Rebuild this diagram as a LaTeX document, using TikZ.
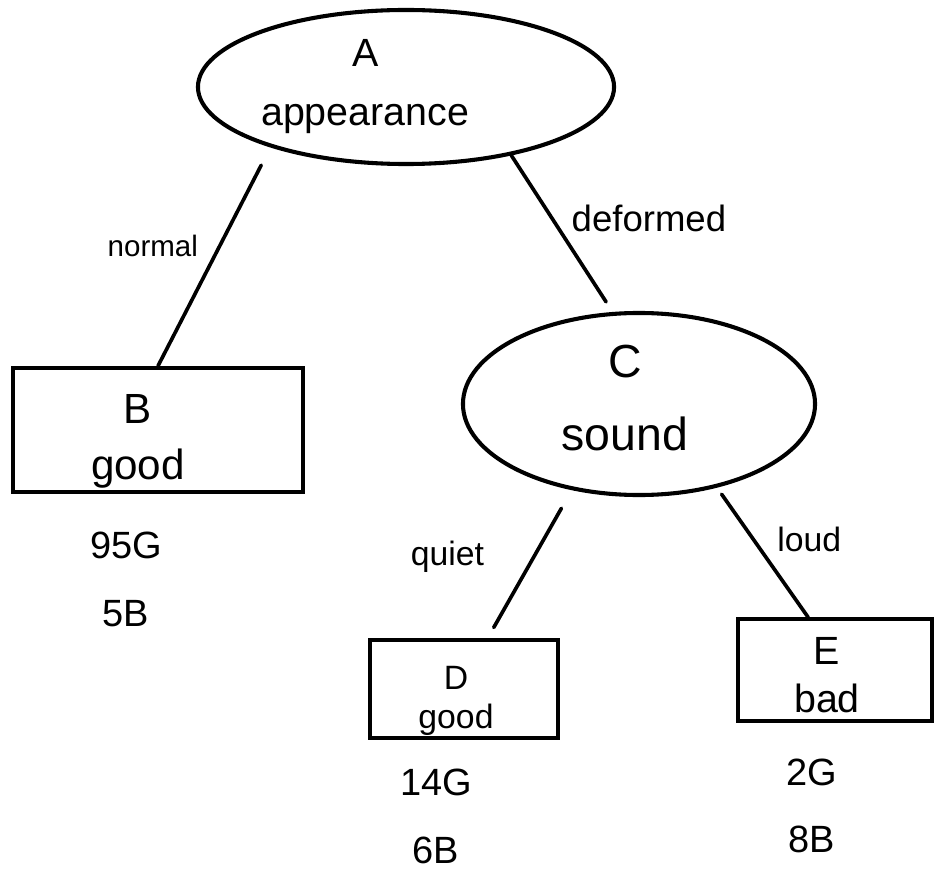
\documentclass[tikz,border=0pt]{standalone}
\usepackage{fontspec}
\setmainfont{Liberation Sans}
\usetikzlibrary{shapes.geometric}
\usetikzlibrary{positioning}

\tikzset{
  oval/.style={draw, ellipse, line width=2.9pt, inner sep=0pt},
  leaf/.style={draw, rectangle, line width=2.9pt, inner sep=0pt},
  nodetext/.style={align=center, inner sep=0pt},
  edge/.style={line width=2.6pt, line cap=round},
  edgelabel/.style={inner sep=0pt, font=\fontsize{24}{28}\selectfont},
  count/.style={align=center, inner sep=0pt, font=\fontsize{27}{48}\selectfont}
}

\begin{document}
\begin{tikzpicture}[x=0.025cm, y=-0.025cm]
        \useasboundingbox (0,0) rectangle (944,872);

        % Wurzel: appearance
        \node[oval, minimum width=10.4cm, minimum height=3.85cm] (A) at (406,87) {};
        \node[nodetext, font=\fontsize{28}{42}\selectfont] (Atext) at ([xshift=-1.02cm]A.center) {A\\appearance};

        % Blatt B
        \node[leaf, minimum width=7.25cm, minimum height=3.1cm] (B) at (158,430) {};
        \node[nodetext, font=\fontsize{30}{40}\selectfont] (Btext) at ([xshift=-0.5cm, yshift=-0.28cm]B.center) {B\\good};

        % Knoten C: sound
        \node[oval, minimum width=8.8cm, minimum height=4.55cm] (C) at (639,404) {};
        \node[nodetext, font=\fontsize{33}{52}\selectfont] (Ctext) at ([xshift=-0.35cm, yshift=0.14cm]C.center) {C\\sound};

        % Blaetter D und E
        \node[leaf, minimum width=4.7cm, minimum height=2.45cm] (D) at (464,689) {};
        \node[nodetext, font=\fontsize{24}{28}\selectfont] (Dtext) at ([xshift=-0.2cm, yshift=-0.3cm]D.center) {D\\good};

        \node[leaf, minimum width=4.85cm, minimum height=2.53cm] (E) at (835,670) {};
        \node[nodetext, font=\fontsize{28}{34}\selectfont] (Etext) at ([xshift=-0.2cm, yshift=-0.12cm]E.center) {E\\bad};

        % Kanten
        \draw[edge, shorten <=0.5cm] (A.204) -- node[edgelabel, pos=.45, left=0.5cm, font=\fontsize{21}{24}\selectfont] {normal} (B.north);
        \draw[edge, shorten >=0.3cm] (A.327) -- node[edgelabel, pos=.4, right=0.45cm, font=\fontsize{26}{30}\selectfont] {deformed} (C.106);
        \draw[edge, shorten <=0.52cm, shorten >=0.3cm] (C.232) -- node[edgelabel, pos=.45, left=1.2cm] {quiet} (D.65);
        \draw[edge, shorten <=0.2cm] (C.313) -- node[edgelabel, pos=.4, right=0.55cm] {loud} (E.117);

        % Zaehlungen
        \node[count, below=0.95cm of B, xshift=-0.8cm] (Bcount) {95G\\5B};
        \node[count, below=0.72cm of D, xshift=-0.7cm] (Dcount) {14G\\6B};
        \node[count, below=0.9cm of E, xshift=-0.58cm] (Ecount) {2G\\8B};
\end{tikzpicture}
\end{document}
